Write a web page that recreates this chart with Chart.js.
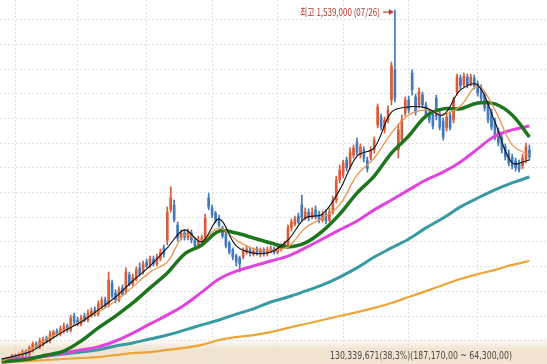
<!DOCTYPE html>
<html>
<head>
<meta charset="utf-8">
<script src="https://cdn.jsdelivr.net/npm/chart.js@4.4.0/dist/chart.umd.min.js"></script>
<style>
    html, body { margin: 0; padding: 0; background: #fff; }
    #wrap { width: 547px; height: 364px; }
</style>
</head>
<body>
<div id="wrap"><canvas id="priceChart" width="547" height="364"></canvas></div>
<script>
// daily candles, prices in thousand won
const candleOpen = [
    130, 138, 130, 138, 154, 146, 163, 187, 175, 187,
    211, 199, 219, 239, 227, 239, 260, 243, 300, 284,
    268, 300, 284, 304, 325, 308, 337, 365, 345, 434,
    393, 365, 414, 397, 466, 430, 450, 495, 478, 519,
    503, 531, 511, 531, 576, 608, 730, 750, 669, 616,
    636, 616, 636, 608, 588, 600, 616, 778, 738, 717,
    697, 657, 632, 596, 568, 543, 535, 539, 559, 568,
    551, 572, 555, 568, 551, 563, 572, 559, 572, 584,
    584, 657, 673, 705, 750, 697, 721, 701, 730, 713,
    689, 713, 689, 721, 770, 851, 871, 932, 908, 952,
    1005, 952, 973, 932, 940, 973, 1074, 1106, 1054, 1094,
    1175, 1297, 973, 1013, 1122, 1175, 1284, 1187, 1155, 1195,
    1155, 1122, 1114, 1183, 1118, 1090, 1062, 1114, 1094, 1207,
    1264, 1236, 1268, 1240, 1264, 1240, 1224, 1195, 1159, 1126,
    1090, 1049, 1021, 985, 960, 944, 928, 920, 908, 932,
    973
];
const candleHigh = [
    146, 146, 150, 163, 163, 179, 195, 195, 211, 215,
    219, 239, 243, 248, 260, 272, 268, 304, 312, 296,
    304, 312, 325, 333, 337, 361, 377, 377, 478, 446,
    406, 418, 426, 495, 478, 470, 499, 515, 523, 531,
    543, 543, 551, 572, 588, 742, 823, 770, 681, 649,
    649, 653, 649, 616, 624, 628, 713, 798, 750, 725,
    709, 665, 640, 604, 576, 551, 543, 576, 584, 580,
    576, 580, 576, 576, 580, 584, 580, 588, 592, 604,
    669, 693, 705, 717, 790, 738, 734, 738, 746, 725,
    725, 730, 738, 786, 867, 912, 932, 944, 981, 993,
    1021, 997, 985, 944, 985, 1025, 1159, 1118, 1106, 1151,
    1329, 1539, 1078, 1114, 1187, 1191, 1297, 1199, 1224, 1207,
    1167, 1135, 1126, 1195, 1130, 1102, 1118, 1126, 1187, 1280,
    1276, 1284, 1280, 1280, 1276, 1252, 1236, 1207, 1171, 1139,
    1102, 1062, 1033, 997, 973, 956, 940, 932, 956, 1001,
    993
];
const candleLow = [
    122, 122, 122, 130, 138, 138, 154, 167, 167, 179,
    191, 191, 211, 219, 219, 231, 235, 235, 268, 260,
    260, 276, 276, 296, 300, 300, 329, 333, 337, 373,
    353, 357, 381, 389, 422, 422, 442, 462, 470, 495,
    495, 503, 503, 523, 539, 588, 721, 681, 604, 608,
    608, 608, 596, 572, 580, 592, 608, 730, 697, 677,
    661, 616, 576, 551, 527, 503, 478, 531, 551, 543,
    543, 547, 539, 543, 543, 555, 551, 551, 563, 576,
    576, 644, 665, 673, 685, 689, 685, 693, 693, 677,
    681, 673, 681, 713, 758, 839, 859, 887, 896, 940,
    952, 940, 924, 883, 932, 960, 1062, 1054, 1041, 1082,
    1155, 1167, 940, 1001, 1110, 1122, 1195, 1114, 1143, 1143,
    1102, 1082, 1058, 1094, 1054, 1013, 1049, 1054, 1082, 1195,
    1220, 1228, 1224, 1232, 1220, 1191, 1171, 1130, 1082, 1054,
    1013, 989, 960, 932, 908, 896, 887, 883, 896, 920,
    932
];
const candleClose = [
    138, 130, 142, 154, 146, 171, 187, 175, 199, 203,
    199, 227, 235, 227, 248, 260, 243, 292, 276, 268,
    292, 284, 312, 320, 308, 349, 365, 341, 446, 381,
    365, 406, 389, 478, 430, 458, 487, 470, 511, 503,
    531, 511, 539, 559, 551, 721, 778, 689, 616, 636,
    620, 640, 608, 584, 608, 616, 697, 742, 709, 689,
    669, 624, 584, 559, 539, 519, 511, 563, 572, 555,
    563, 559, 568, 555, 568, 572, 559, 576, 584, 592,
    657, 681, 693, 681, 697, 721, 697, 721, 705, 689,
    713, 685, 721, 770, 851, 892, 920, 900, 964, 981,
    964, 985, 940, 896, 973, 1013, 1147, 1066, 1094, 1135,
    1313, 1183, 1054, 1094, 1175, 1135, 1216, 1126, 1207, 1155,
    1114, 1094, 1070, 1110, 1066, 1025, 1106, 1062, 1175, 1268,
    1232, 1272, 1236, 1268, 1232, 1203, 1183, 1143, 1094, 1066,
    1025, 1001, 973, 944, 920, 908, 900, 892, 940, 985,
    944
];

// moving averages, sampled every 5 sessions
const maIndex = [-3, 5, 10, 15, 20, 25, 30, 35, 40, 45, 50, 55, 60, 65, 70, 75,
    80, 85, 90, 95, 100, 105, 110, 115, 120, 125, 130, 135, 140, 145, 150];
const ma5 = [126, 154, 195, 239, 276, 325, 377, 442, 503, 576, 649, 600, 693, 584, 555, 559,
    608, 697, 713, 811, 948, 981, 1126, 1147, 1143, 1114, 1216, 1236, 1086, 920, 932];
const ma10 = [118, 163, 207, 243, 280, 316, 361, 418, 478, 519, 628, 608, 657, 608, 572, 568,
    580, 657, 697, 750, 871, 940, 1041, 1114, 1135, 1118, 1151, 1232, 1135, 993, 952];
const ma20 = [114, 126, 142, 158, 199, 252, 300, 353, 414, 474, 551, 588, 644, 636, 616, 596,
    580, 596, 644, 713, 798, 867, 960, 1029, 1110, 1139, 1139, 1163, 1159, 1114, 1025];
const ma60 = [122, 130, 138, 150, 163, 175, 199, 231, 268, 304, 345, 397, 450, 482, 503, 523,
    543, 576, 612, 649, 685, 730, 770, 811, 851, 883, 924, 977, 1029, 1054, 1070];
const ma120 = [122, 130, 138, 146, 154, 163, 179, 191, 207, 223, 243, 264, 284, 308, 329, 357,
    377, 401, 426, 458, 495, 539, 576, 612, 657, 697, 742, 778, 811, 839, 863];
const ma240 = [112, 118, 122, 126, 130, 134, 142, 150, 154, 163, 171, 183, 203, 215, 223, 235,
    252, 268, 284, 300, 316, 333, 353, 377, 401, 426, 450, 470, 487, 507, 523];

// grid: first session of each month, price lines every 100
const monthStarts = [1, 19, 39, 58, 77, 96, 115, 135];
const priceLines = [200, 300, 400, 500, 600, 700, 800, 900, 1000, 1100, 1200, 1300, 1400, 1500];

const peakDate = '07/26';
const statusText = '130,339,671(38,3%)(187,170,00 ~ 64,300,00)';

const upColor = '#d85b3a';
const downColor = '#4379bb';

const candleColors = candleOpen.map((o, i) => candleClose[i] >= o ? upColor : downColor);
const bodies = candleOpen.map((o, i) => ({ x: i, y: [o, candleClose[i]] }));
const wicks = candleLow.map((l, i) => ({ x: i, y: [l, candleHigh[i]] }));

function maLine(values) {
    return maIndex.map((x, k) => ({ x: x, y: values[k] }));
}

function lineSet(label, values, color, width) {
    return {
        type: 'line',
        label: label,
        data: maLine(values),
        borderColor: color,
        borderWidth: width,
        pointRadius: 0,
        tension: 0.35,
        order: 0
    };
}

const chartDecor = {
    id: 'chartDecor',
    beforeDraw(chart) {
        const ctx = chart.ctx;
        const g = ctx.createLinearGradient(0, 339, 0, 349);
        g.addColorStop(0, 'rgba(241,228,208,0)');
        g.addColorStop(1, 'rgba(241,228,208,1)');
        ctx.save();
        ctx.fillStyle = g;
        ctx.fillRect(0, 339, chart.width, chart.height - 339);
        ctx.restore();
    },
    afterDraw(chart) {
        const ctx = chart.ctx;
        const xs = chart.scales.x;
        const ys = chart.scales.y;
        const top = Math.max(...candleHigh);
        const peakIdx = candleHigh.indexOf(top);
        const px = xs.getPixelForValue(peakIdx);
        const py = ys.getPixelForValue(top) + 2;

        ctx.save();
        ctx.strokeStyle = '#c0392b';
        ctx.fillStyle = '#c0392b';
        ctx.lineWidth = 1.2;
        ctx.beginPath();
        ctx.moveTo(px - 12, py);
        ctx.lineTo(px - 4, py);
        ctx.stroke();
        ctx.beginPath();
        ctx.moveTo(px - 1, py);
        ctx.lineTo(px - 6, py - 3);
        ctx.lineTo(px - 6, py + 3);
        ctx.closePath();
        ctx.fill();

        ctx.font = '10px "Noto Sans CJK KR", "DejaVu Sans", sans-serif';
        ctx.textAlign = 'right';
        ctx.textBaseline = 'middle';
        ctx.fillStyle = '#b23a2e';
        const label = '최고 ' + (top * 1000).toLocaleString('en-US') + ' (' + peakDate + ')';
        ctx.fillText(label, px - 15, py, 80);

        ctx.font = '11px "Liberation Sans Narrow", "DejaVu Sans Condensed", sans-serif';
        ctx.fillStyle = '#4a4a4a';
        ctx.fillText(statusText, 512, 356, 182);
        ctx.restore();
    }
};

const gridStyle = { color: '#e0e0e0', lineWidth: 1, drawTicks: false };
const borderStyle = { display: false, dash: [2, 2] };

new Chart(document.getElementById('priceChart'), {
    type: 'bar',
    data: {
        datasets: [
            lineSet('MA5', ma5, '#111111', 1.1),
            lineSet('MA10', ma10, '#e8964f', 1.3),
            lineSet('MA20', ma20, '#1d761d', 3.5),
            lineSet('MA60', ma60, '#e043de', 3),
            lineSet('MA120', ma120, '#3a9aa4', 3),
            lineSet('MA240', ma240, '#eca538', 2.2),
            {
                label: 'body',
                data: bodies,
                backgroundColor: candleColors,
                barThickness: 2,
                grouped: false,
                order: 5
            },
            {
                label: 'wick',
                data: wicks,
                backgroundColor: candleColors,
                barThickness: 1,
                grouped: false,
                order: 6
            }
        ]
    },
    options: {
        responsive: false,
        animation: false,
        layout: { padding: 0 },
        plugins: {
            legend: { display: false },
            tooltip: { enabled: false }
        },
        scales: {
            x: {
                type: 'linear',
                min: -3.5,
                max: 155.1,
                offset: false,
                grid: Object.assign({ offset: false }, gridStyle),
                border: borderStyle,
                ticks: { display: false },
                afterBuildTicks: s => { s.ticks = monthStarts.map(v => ({ value: v })); }
            },
            y: {
                type: 'linear',
                min: 105.8,
                max: 1580,
                grid: gridStyle,
                border: borderStyle,
                ticks: { display: false },
                afterBuildTicks: s => { s.ticks = priceLines.map(v => ({ value: v })); }
            }
        }
    },
    plugins: [chartDecor]
});
</script>
</body>
</html>
